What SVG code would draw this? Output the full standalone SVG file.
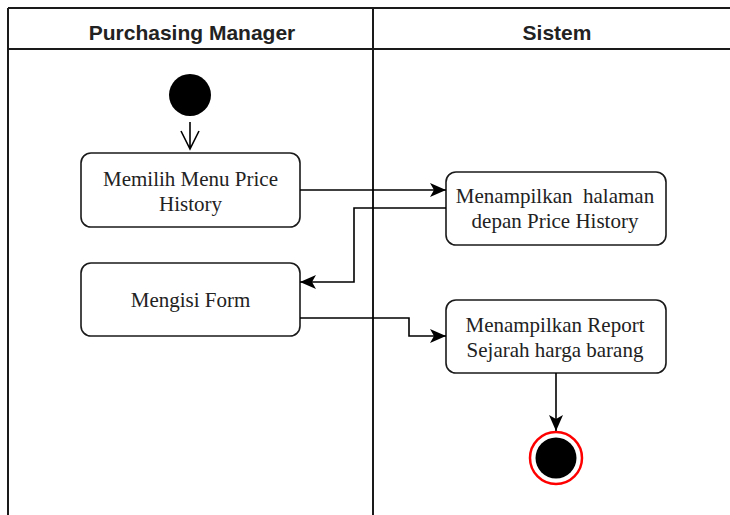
<svg xmlns="http://www.w3.org/2000/svg" width="730" height="515" viewBox="0 0 730 515">
<defs>
<style>
.lane{fill:none;stroke:#1a1a1a;stroke-width:2}
.hdr{font-family:"Liberation Sans",Arial,sans-serif;font-weight:bold;font-size:21px;fill:#222;text-anchor:middle}
.box{fill:#fff;stroke:#1a1a1a;stroke-width:1.6}
.lbl{font-family:"Liberation Serif","Times New Roman",serif;font-size:21px;fill:#222;text-anchor:middle}
.edge{fill:none;stroke:#000;stroke-width:1.6}
</style>
<marker id="arr" markerUnits="userSpaceOnUse" markerWidth="18" markerHeight="16" refX="16" refY="7" orient="auto">
<path d="M0,0 L16,7 L0,14 L4,7 Z" fill="#000"/>
</marker>
</defs>
<rect width="730" height="515" fill="#fff"/>
<g id="pool">
<line class="lane" x1="8" y1="8" x2="730" y2="8"/>
<line class="lane" x1="8" y1="49" x2="730" y2="49"/>
<line class="lane" x1="8" y1="8" x2="8" y2="515"/>
<line class="lane" x1="373" y1="8" x2="373" y2="515"/>
<text class="hdr" x="192" y="40">Purchasing Manager</text>
<text class="hdr" x="557" y="40">Sistem</text>
</g>
<g id="start">
<circle cx="190" cy="95" r="21" fill="#000"/>
</g>
<g id="n1">
<rect class="box" x="81" y="153" width="219" height="74" rx="10"/>
<text class="lbl" x="190.5" y="186">Memilih Menu Price</text>
<text class="lbl" x="190.5" y="211">History</text>
</g>
<g id="n2">
<rect class="box" x="446" y="172" width="220" height="73" rx="10"/>
<text class="lbl" x="555" y="203" xml:space="preserve">Menampilkan  halaman</text>
<text class="lbl" x="555" y="228">depan Price History</text>
</g>
<g id="n3">
<rect class="box" x="81" y="263" width="219" height="73" rx="10"/>
<text class="lbl" x="190.5" y="307">Mengisi Form</text>
</g>
<g id="n4">
<rect class="box" x="446" y="300" width="220" height="73" rx="10"/>
<text class="lbl" x="555" y="332">Menampilkan Report</text>
<text class="lbl" x="555" y="357">Sejarah harga barang</text>
</g>
<g id="end">
<circle cx="556" cy="458" r="26" fill="#fff" stroke="#ff0000" stroke-width="2.5"/>
<circle cx="556" cy="458" r="20.5" fill="#000"/>
</g>
<g id="connectors">
<path class="edge" d="M190,122 L190,149 M181,131 L190,149 L199,131"/>
<path class="edge" d="M300,190 L446,190" marker-end="url(#arr)"/>
<path class="edge" d="M446,208 L354,208 L354,282 L300,282" marker-end="url(#arr)"/>
<path class="edge" d="M300,318 L409,318 L409,336 L446,336" marker-end="url(#arr)"/>
<path class="edge" d="M556,373 L556,431" marker-end="url(#arr)"/>
</g>
</svg>
